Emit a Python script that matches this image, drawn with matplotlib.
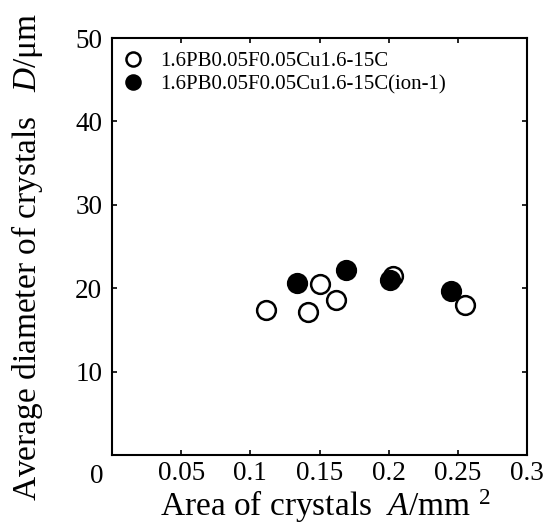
import matplotlib
matplotlib.use("Agg")
import matplotlib.pyplot as plt

plt.rcParams['font.family'] = 'Liberation Serif'
plt.rcParams['mathtext.fontset'] = 'custom'
plt.rcParams['mathtext.rm'] = 'Liberation Serif'
plt.rcParams['mathtext.it'] = 'Liberation Serif:italic'

# open circles
area_open = [0.111, 0.142, 0.150, 0.162, 0.203, 0.255]
diam_open = [17.4, 17.2, 20.5, 18.6, 21.5, 18.0]
# filled circles (ion-1)
area_ion = [0.134, 0.169, 0.201, 0.245]
diam_ion = [20.6, 22.2, 21.0, 19.7]

xticks = [0.05, 0.1, 0.15, 0.2, 0.25, 0.3]
xticklabels = ['0.05', '0.1', '0.15', '0.2', '0.25', '0.3']
yticks = [10, 20, 30, 40, 50]

fig = plt.figure(figsize=(5.47, 5.27), dpi=100)
ax = fig.add_axes([112/547, 1-455/527, 415/547, 417/527])

ax.plot(area_open, diam_open, 'o', ms=13.5, mfc='white', mec='black', mew=1.8,
        label='1.6PB0.05F0.05Cu1.6-15C')
ax.plot(area_ion, diam_ion, 'o', ms=13.5, mfc='black', mec='black', mew=1.8,
        label='1.6PB0.05F0.05Cu1.6-15C(ion-1)')

ax.set_xlim(0, 0.3)
ax.set_ylim(0, 50)
ax.set_xticks(xticks)
ax.set_xticklabels(xticklabels)
ax.set_yticks(yticks)
ax.tick_params(direction='in', length=3.5, width=1.2, top=True, right=True,
               labelsize=19.5)
ax.tick_params(axis='x', pad=4.5)
ax.tick_params(axis='y', pad=7)
for s in ax.spines.values():
    s.set_linewidth(1.5)
# corner zero
ax.text(-0.037, -0.022, '0', transform=ax.transAxes, fontsize=19.5,
        ha='center', va='top')

ax.set_xlabel(r'Area of crystals  $\it{A}$/mm $^{2}$', fontsize=24)
ax.set_ylabel(r'Average diameter of crystals   $\it{D}$/μm', fontsize=24)
ax.xaxis.label.set_va('center')
ax.yaxis.label.set_va('center')
ax.xaxis.set_label_coords(0.515, -0.123)
ax.yaxis.set_label_coords(-0.205, 0.476)

ax.legend(loc='upper left', bbox_to_anchor=(0.01, 0.982), frameon=False,
          fontsize=15, markerscale=0.75, handletextpad=0.75, borderaxespad=0,
          labelspacing=0.15, borderpad=0.3, handlelength=1.05)

fig.savefig('out.png', dpi=100)
